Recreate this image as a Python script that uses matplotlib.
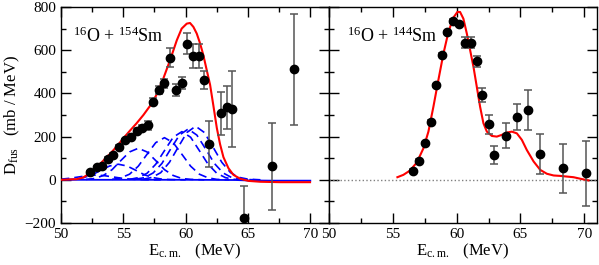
import matplotlib
matplotlib.use('Agg')
import matplotlib.pyplot as plt
from matplotlib.ticker import MultipleLocator

plt.rcParams['font.family'] = ['Liberation Serif', 'DejaVu Serif']
plt.rcParams['mathtext.fontset'] = 'custom'
plt.rcParams['mathtext.rm'] = 'Liberation Serif'
plt.rcParams['mathtext.it'] = 'Liberation Serif:italic'

# 16O + 154Sm data
e_sm154 = [52.33, 52.86, 53.26, 53.75, 54.15, 54.65, 55.14, 55.59, 56.07, 56.47,
           56.96, 57.41, 57.89, 58.29, 58.75, 59.2, 59.69, 60.14, 60.57, 61.05,
           61.48, 61.9, 62.82, 63.3, 63.75, 64.66, 66.9, 68.7]
d_sm154 = [35, 57, 62, 98, 114, 154, 182, 200, 228, 240,
           252, 362, 415, 446, 565, 415, 449, 631, 572, 572,
           462, 166, 308, 335, 329, -177, 62, 511]
err_sm154 = [6, 6, 6, 8, 8, 8, 8, 10, 10, 12,
             20, 18, 18, 22, 45, 28, 28, 50, 55, 55,
             42, 108, 100, 98, 177, 146, 201, 258]

# red theory curve (154Sm)
e_red154 = [50.0, 51.26, 51.79, 52.33, 52.86, 53.4, 53.93, 54.47, 55.0, 55.54,
            56.07, 56.61, 57.14, 57.68, 58.21, 58.75, 59.29, 59.68, 60.09, 60.35,
            60.62, 60.89, 61.16, 61.42, 61.69, 61.96, 62.22, 62.5, 62.76, 63.03,
            63.43, 63.83, 64.37, 65.03, 65.97, 67.58, 69.98]
d_red154 = [0, 3, 11, 31, 58, 89, 120, 154, 192, 228,
            262, 300, 342, 395, 469, 554, 646, 700, 723, 726,
            708, 677, 631, 577, 508, 440, 345, 240, 165, 105,
            54, 23, 5, -5, -9, -11, -11]

# blue channel components (dashed)
e_c1 = [50.0, 50.7, 51.4, 52.1, 52.8, 53.5, 54.2, 54.9, 55.6, 56.3, 57.0, 58.0]
d_c1 = [3, 7, 13, 19, 22, 19, 13, 7, 3, 1, 0, 0]
e_c2 = [50.4, 51.1, 51.8, 52.5, 53.2, 53.9, 54.6, 55.3, 56.0, 56.7, 57.4, 58.1, 58.8, 60.0]
d_c2 = [1, 3, 10, 23, 44, 64, 72, 64, 44, 23, 10, 3, 1, 0]
e_c3 = [52.0, 52.7, 53.4, 54.1, 54.8, 55.5, 56.2, 56.9, 57.6, 58.3, 59.0, 59.7, 60.4, 61.5]
d_c3 = [2, 6, 20, 47, 89, 129, 146, 129, 89, 47, 20, 6, 2, 0]
e_c4 = [54.1, 54.8, 55.5, 56.2, 56.9, 57.6, 58.3, 59.0, 59.7, 60.4, 61.1, 61.8, 62.5, 63.5]
d_c4 = [2, 9, 26, 63, 118, 172, 195, 172, 118, 63, 26, 9, 2, 0]
e_c5 = [55.5, 56.2, 56.9, 57.6, 58.3, 59.0, 59.7, 60.4, 61.1, 61.8, 62.5, 63.2, 63.9, 65.0]
d_c5 = [2, 10, 30, 72, 135, 197, 223, 197, 135, 72, 30, 10, 2, 0]
e_c6 = [56.0, 56.7, 57.4, 58.1, 58.8, 59.5, 60.2, 60.9, 61.6, 62.3, 63.0, 63.7, 64.4, 65.5]
d_c6 = [3, 10, 32, 76, 143, 207, 235, 207, 143, 76, 32, 10, 3, 0]
e_c7 = [56.6, 57.3, 58.0, 58.7, 59.4, 60.1, 60.8, 61.5, 62.2, 62.9, 63.6, 64.3, 65.0, 66.0]
d_c7 = [3, 11, 33, 81, 151, 219, 248, 219, 151, 81, 33, 11, 3, 0]
components = [(e_c1, d_c1), (e_c2, d_c2), (e_c3, d_c3), (e_c4, d_c4),
              (e_c5, d_c5), (e_c6, d_c6), (e_c7, d_c7)]

# blue solid baseline
e_blue = [50.0, 55.0, 60.0, 64.0, 65.0, 67.0, 70.0]
d_blue = [0, 0, 0, -1, -3, -4, -4]

# 16O + 144Sm data
e_sm144 = [56.6, 57.06, 57.5, 57.97, 58.39, 58.84, 59.28, 59.75, 60.22, 60.64,
           61.1, 61.58, 62.0, 62.5, 62.94, 63.86, 64.72, 65.63, 66.5, 68.33, 70.13]
d_sm144 = [43, 89, 172, 269, 437, 580, 682, 735, 720, 635,
           635, 549, 392, 258, 115, 203, 292, 323, 120, 54, 31]
err_sm144 = [5, 5, 5, 6, 6, 6, 8, 8, 10, 26,
             26, 26, 31, 44, 43, 58, 60, 92, 92, 113, 150]

# red theory curve (144Sm)
e_red144 = [55.36, 55.83, 56.35, 56.88, 57.4, 57.79, 58.18, 58.57, 58.97, 59.36,
            59.75, 60.06, 60.27, 60.53, 60.8, 61.06, 61.32, 61.58, 61.84, 62.1,
            62.37, 62.76, 63.15, 63.54, 63.94, 64.33, 64.72, 65.11, 65.5, 66.03,
            66.55, 67.07, 67.6, 68.12, 68.64, 69.16, 69.69, 70.34]
d_red144 = [12, 23, 43, 80, 146, 223, 338, 462, 585, 685,
            751, 777, 777, 746, 677, 600, 523, 431, 338, 262,
            223, 203, 200, 208, 219, 223, 215, 185, 138, 85,
            46, 28, 20, 18, 15, 12, 5, -3]

xticks = [50, 55, 60, 65, 70]
yticks = [-200, 0, 200, 400, 600, 800]

fig = plt.figure(figsize=(5.99, 2.65), dpi=100)
ax1 = fig.add_axes([61 / 599, 42 / 265, 268 / 599, 216 / 265])
ax2 = fig.add_axes([329 / 599, 42 / 265, 268 / 599, 216 / 265])

err_style = dict(fmt='o', color='black', markersize=6, ecolor='#555555',
                 elinewidth=1.1, capsize=3, capthick=1.1, zorder=5)

# left panel
for e, d in components:
    ax1.plot(e, d, color='#0000ff', lw=1.2, ls=(0, (5, 3)))
ax1.plot(e_blue, d_blue, color='#0000ff', lw=1.3)
ax1.plot(e_red154, d_red154, color='#ff0000', lw=1.5, zorder=4)
ax1.errorbar(e_sm154, d_sm154, yerr=err_sm154, **err_style)
ax1.text(0.045, 0.84, r'$^{16}$O + $^{154}$Sm', transform=ax1.transAxes, fontsize=13)
ax1.set_xlim(50, 71.5)
ax1.set_ylabel(r'D$_{\mathrm{fus}}$   (mb / MeV)', fontsize=12, labelpad=2)

# right panel
ax2.axhline(0, color='gray', ls=':', lw=1)
ax2.plot(e_red144, d_red144, color='#ff0000', lw=1.5, zorder=4)
ax2.errorbar(e_sm144, d_sm144, yerr=err_sm144, **err_style)
ax2.text(0.067, 0.84, r'$^{16}$O + $^{144}$Sm', transform=ax2.transAxes, fontsize=13)
ax2.set_xlim(50, 71.0)
ax2.set_yticklabels([])

for ax in (ax1, ax2):
    ax.set_ylim(-200, 800)
    ax.set_xticks(xticks)
    ax.set_yticks(yticks)
    ax.xaxis.set_minor_locator(MultipleLocator(2.5))
    ax.yaxis.set_minor_locator(MultipleLocator(100))
    ax.tick_params(which='both', direction='in', top=True, right=True, labelsize=11)
    ax.tick_params(which='major', length=7, width=1)
    ax.tick_params(which='minor', length=3.5, width=1)
    ax.set_xlabel(r'E$_{\mathrm{c.m.}}$   (MeV)', fontsize=12, labelpad=1)
    for s in ax.spines.values():
        s.set_linewidth(1)
ax2.set_yticklabels([])

fig.savefig('out.png', dpi=100)
